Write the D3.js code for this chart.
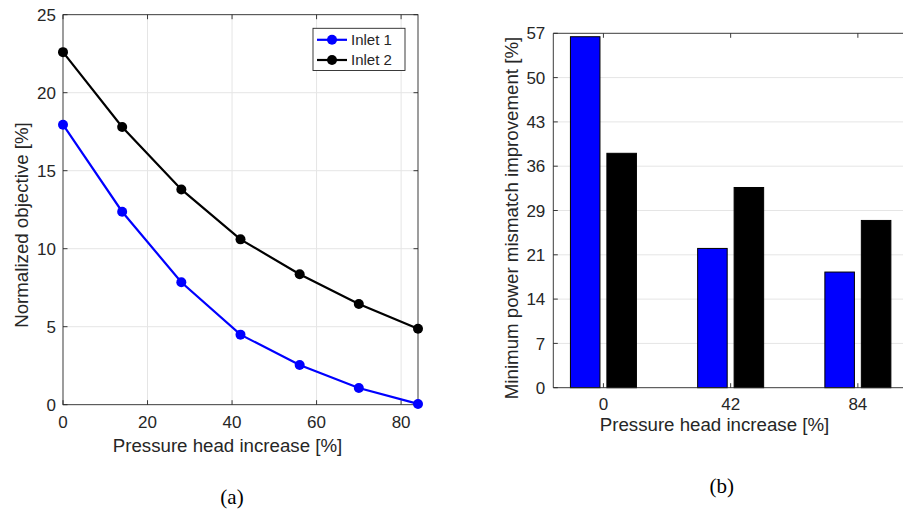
<!DOCTYPE html>
<html>
<head>
<meta charset="utf-8">
<script src="https://cdn.jsdelivr.net/npm/d3@7/dist/d3.min.js"></script>
<style>
  html, body { margin: 0; padding: 0; background: #fff; }
  svg { display: block; }
  text { font-family: "Liberation Sans", Arial, Helvetica, sans-serif; fill: #262626; }
  .caption { font-family: "Liberation Serif", "DejaVu Serif", serif; fill: #000; }
</style>
</head>
<body>
<div id="chart"></div>
<script>
// ---- data ----
const headIncrease = [0, 14, 28, 42, 56, 70, 84];
const inlet1 = [17.95, 12.37, 7.85, 4.49, 2.54, 1.07, 0.05];
const inlet2 = [22.6, 17.8, 13.8, 10.6, 8.36, 6.45, 4.87];
const seriesNames = ["Inlet 1", "Inlet 2"];
const seriesColors = ["#0000ff", "#000000"];

const barCategories = ["0", "42", "84"];
const barInlet1 = [56.45, 22.4, 18.6];
const barInlet2 = [37.7, 32.2, 26.9];

const lineXTicks = [0, 20, 40, 60, 80];
const lineYTicks = [0, 5, 10, 15, 20, 25];
const barYTicks = d3.range(9).map(i => i * 57 / 8);

const W = 903, H = 514;
const AXIS = "#262626", GRID = "#e5e5e5";
const TICK = 4.5;

const svg = d3.select("#chart").append("svg")
  .attr("width", W).attr("height", H)
  .attr("viewBox", `0 0 ${W} ${H}`);

// =========================
// (a) LINE CHART
// =========================
const A = { x0: 63, x1: 418, y0: 14.7, y1: 404.7 };
const xa = d3.scaleLinear().domain([0, 84]).range([A.x0, A.x1]);
const ya = d3.scaleLinear().domain([0, 25]).range([A.y1, A.y0]);

const ga = svg.append("g");

// grid
ga.selectAll(".gx").data(lineXTicks.filter(t => t > 0)).enter().append("line")
  .attr("x1", d => xa(d)).attr("x2", d => xa(d))
  .attr("y1", A.y0).attr("y2", A.y1)
  .attr("stroke", GRID).attr("stroke-width", 1);
ga.selectAll(".gy").data(lineYTicks.filter(t => t > 0 && t < 25)).enter().append("line")
  .attr("x1", A.x0).attr("x2", A.x1)
  .attr("y1", d => ya(d)).attr("y2", d => ya(d))
  .attr("stroke", GRID).attr("stroke-width", 1);

// box
ga.append("rect")
  .attr("x", A.x0).attr("y", A.y0)
  .attr("width", A.x1 - A.x0).attr("height", A.y1 - A.y0)
  .attr("fill", "none").attr("stroke", AXIS).attr("stroke-width", 0.9);

// inward ticks on all four sides
lineXTicks.forEach(t => {
  ga.append("line").attr("x1", xa(t)).attr("x2", xa(t))
    .attr("y1", A.y1).attr("y2", A.y1 - TICK).attr("stroke", AXIS).attr("stroke-width", 0.9);
  ga.append("line").attr("x1", xa(t)).attr("x2", xa(t))
    .attr("y1", A.y0).attr("y2", A.y0 + TICK).attr("stroke", AXIS).attr("stroke-width", 0.9);
});
lineYTicks.forEach(t => {
  ga.append("line").attr("x1", A.x0).attr("x2", A.x0 + TICK)
    .attr("y1", ya(t)).attr("y2", ya(t)).attr("stroke", AXIS).attr("stroke-width", 0.9);
  ga.append("line").attr("x1", A.x1).attr("x2", A.x1 - TICK)
    .attr("y1", ya(t)).attr("y2", ya(t)).attr("stroke", AXIS).attr("stroke-width", 0.9);
});

// tick labels
ga.selectAll(".xl").data(lineXTicks).enter().append("text")
  .attr("x", d => xa(d)).attr("y", 428)
  .attr("text-anchor", "middle").attr("font-size", 17)
  .text(d => d);
ga.selectAll(".yl").data(lineYTicks).enter().append("text")
  .attr("x", A.x0 - 7).attr("y", d => ya(d)).attr("dy", "0.36em")
  .attr("text-anchor", "end").attr("font-size", 17)
  .text(d => d);

// axis labels
ga.append("text").attr("x", 227.5).attr("y", 451.5)
  .attr("text-anchor", "middle").attr("font-size", 18.7)
  .text("Pressure head increase [%]");
ga.append("text")
  .attr("transform", "translate(27.5,225) rotate(-90)")
  .attr("text-anchor", "middle").attr("font-size", 18.7)
  .text("Normalized objective [%]");

// lines
const line = d3.line().x((d, i) => xa(headIncrease[i])).y(d => ya(d));
[inlet1, inlet2].forEach((vals, s) => {
  ga.append("path").datum(vals)
    .attr("d", line)
    .attr("fill", "none")
    .attr("stroke", seriesColors[s]).attr("stroke-width", 2.2);
  ga.selectAll(".m" + s).data(vals).enter().append("circle")
    .attr("cx", (d, i) => xa(headIncrease[i])).attr("cy", d => ya(d))
    .attr("r", 5).attr("fill", seriesColors[s]);
});

// legend
const leg = ga.append("g");
leg.append("rect").attr("x", 313).attr("y", 28.3).attr("width", 92).attr("height", 42.2)
  .attr("fill", "#fff").attr("stroke", AXIS).attr("stroke-width", 0.9);
seriesNames.forEach((name, s) => {
  const yy = 39.8 + s * 20.2;
  leg.append("line").attr("x1", 317).attr("x2", 347).attr("y1", yy).attr("y2", yy)
    .attr("stroke", seriesColors[s]).attr("stroke-width", 2.2);
  leg.append("circle").attr("cx", 332).attr("cy", yy).attr("r", 5).attr("fill", seriesColors[s]);
  leg.append("text").attr("x", 351).attr("y", yy).attr("dy", "0.36em")
    .attr("font-size", 15).attr("fill", "#000").text(name);
});

ga.append("text").attr("class", "caption")
  .attr("x", 232).attr("y", 503.5).attr("text-anchor", "middle").attr("font-size", 21)
  .text("(a)");

// =========================
// (b) BAR CHART
// =========================
const B = { x0: 553.3, x1: 908, y0: 33.3, y1: 387.7 };
const xb = d3.scalePoint().domain(barCategories).range([B.x0, B.x1]).padding(0.394);
const xInner = d3.scaleBand().domain(seriesNames).range([-33, 33]).paddingInner(0.19);
const yb = d3.scaleLinear().domain([0, 57]).range([B.y1, B.y0]);

const gb = svg.append("g");

gb.selectAll(".gy").data(barYTicks.filter((t, i) => i > 0 && i < 8)).enter().append("line")
  .attr("x1", B.x0).attr("x2", B.x1)
  .attr("y1", d => yb(d)).attr("y2", d => yb(d))
  .attr("stroke", GRID).attr("stroke-width", 1);

// bars
const barRows = barCategories.map((c, i) => ({ cat: c, vals: [barInlet1[i], barInlet2[i]] }));
barRows.forEach(r => {
  r.vals.forEach((v, s) => {
    gb.append("rect")
      .attr("x", xb(r.cat) + xInner(seriesNames[s]))
      .attr("y", yb(v))
      .attr("width", xInner.bandwidth())
      .attr("height", yb(0) - yb(v))
      .attr("fill", seriesColors[s])
      .attr("stroke", "#000").attr("stroke-width", 1);
  });
});

// axes frame (left, bottom, top; right side is off the page)
gb.append("line").attr("x1", B.x0).attr("x2", B.x0).attr("y1", B.y0).attr("y2", B.y1)
  .attr("stroke", AXIS).attr("stroke-width", 0.9);
gb.append("line").attr("x1", B.x0).attr("x2", B.x1).attr("y1", B.y1).attr("y2", B.y1)
  .attr("stroke", AXIS).attr("stroke-width", 0.9);
gb.append("line").attr("x1", B.x0).attr("x2", B.x1).attr("y1", B.y0).attr("y2", B.y0)
  .attr("stroke", AXIS).attr("stroke-width", 0.9);

barCategories.forEach(c => {
  gb.append("line").attr("x1", xb(c)).attr("x2", xb(c))
    .attr("y1", B.y1).attr("y2", B.y1 - TICK).attr("stroke", AXIS).attr("stroke-width", 0.9);
  gb.append("line").attr("x1", xb(c)).attr("x2", xb(c))
    .attr("y1", B.y0).attr("y2", B.y0 + TICK).attr("stroke", AXIS).attr("stroke-width", 0.9);
});
barYTicks.forEach(t => {
  gb.append("line").attr("x1", B.x0).attr("x2", B.x0 + TICK)
    .attr("y1", yb(t)).attr("y2", yb(t)).attr("stroke", AXIS).attr("stroke-width", 0.9);
});

gb.selectAll(".xl").data(barCategories).enter().append("text")
  .attr("x", d => xb(d)).attr("y", 410)
  .attr("text-anchor", "middle").attr("font-size", 17)
  .text(d => d);
gb.selectAll(".yl").data(barYTicks).enter().append("text")
  .attr("x", B.x0 - 8).attr("y", d => yb(d)).attr("dy", "0.36em")
  .attr("text-anchor", "end").attr("font-size", 17)
  .text(d => Math.round(d));

gb.append("text").attr("x", 714.5).attr("y", 431)
  .attr("text-anchor", "middle").attr("font-size", 18.7)
  .text("Pressure head increase [%]");
gb.append("text")
  .attr("transform", "translate(518,218) rotate(-90)")
  .attr("text-anchor", "middle").attr("font-size", 18.7)
  .text("Minimum power mismatch improvement [%]");

gb.append("text").attr("class", "caption")
  .attr("x", 721.7).attr("y", 492.5).attr("text-anchor", "middle").attr("font-size", 21)
  .text("(b)");
</script>
</body>
</html>
